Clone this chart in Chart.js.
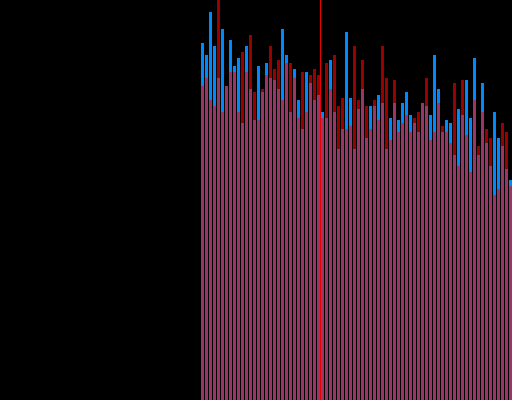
<!DOCTYPE html>
<html>
<head>
<meta charset="utf-8">
<script src="https://cdn.jsdelivr.net/npm/chart.js@4"></script>
<style>
  html, body { margin: 0; padding: 0; background: #000; }
  #wrap { width: 512px; height: 400px; position: relative; }
</style>
</head>
<body>
<div id="wrap"><canvas id="myChart"></canvas></div>
<script>
// slots with no bars on the left side of the chart
const emptySlots = 50;
// blue series (drawn underneath)
const blueValues = [357,345,388,354,322,371,314,360,334,342,
  277,354,311,280,334,308,337,322,320,311,
  371,345,288,331,300,271,328,317,300,305,
  288,282,340,288,251,271,368,302,251,291,
  311,262,294,294,305,297,251,282,297,280,
  297,308,285,277,268,297,294,285,345,311,
  268,280,277,245,291,285,320,282,342,245,
  317,257,234,288,262,254,231,220];
// red series (semi transparent, on top)
const redValues = [314,322,300,294,420,288,314,328,328,288,
  348,328,365,308,280,311,325,354,331,340,
  300,337,337,322,282,328,288,325,331,325,
  282,337,311,345,294,302,271,274,354,300,
  340,294,271,300,280,354,322,260,320,268,
  277,285,268,282,288,297,322,260,268,297,
  274,268,257,317,234,320,265,228,300,254,
  288,271,262,205,211,277,268,214];
// the vertical marker sits between these two slots
const markerBetween = [79, 80];

const pad = new Array(emptySlots).fill(null);
const labels = [];
for (let i = 0; i < emptySlots + blueValues.length; i++) labels.push(String(i));

// half pixel shift so the 3px bars land on whole pixels, then the red marker line
const crispAndMarker = {
  id: 'crispAndMarker',
  beforeDatasetsDraw(chart) {
    chart.ctx.save();
    chart.ctx.translate(0.5, 0);
  },
  afterDatasetsDraw(chart) {
    const ctx = chart.ctx;
    ctx.restore();
    const x = chart.scales.x;
    const area = chart.chartArea;
    const px = Math.round((x.getPixelForValue(markerBetween[0]) + x.getPixelForValue(markerBetween[1])) / 2);
    ctx.save();
    ctx.fillStyle = 'rgb(235,0,0)';
    ctx.fillRect(px, area.top, 1, area.bottom - area.top);
    ctx.restore();
  }
};

new Chart(document.getElementById('myChart'), {
  type: 'bar',
  data: {
    labels: labels,
    datasets: [{
      label: 'red',
      data: pad.concat(redValues),
      backgroundColor: 'rgba(255,0,0,0.6)',
      grouped: false,
      order: 1
    }, {
      label: 'blue',
      data: pad.concat(blueValues),
      backgroundColor: 'rgb(0,136,255)',
      grouped: false,
      order: 2
    }]
  },
  options: {
    responsive: true,
    maintainAspectRatio: false,
    animation: false,
    layout: { padding: 0 },
    datasets: { bar: { barPercentage: 0.75, categoryPercentage: 1 } },
    plugins: { legend: { display: false }, tooltip: { enabled: false } },
    scales: {
      x: { display: false },
      y: { display: false, min: 0, max: 400 }
    }
  },
  plugins: [crispAndMarker]
});
</script>
</body>
</html>
